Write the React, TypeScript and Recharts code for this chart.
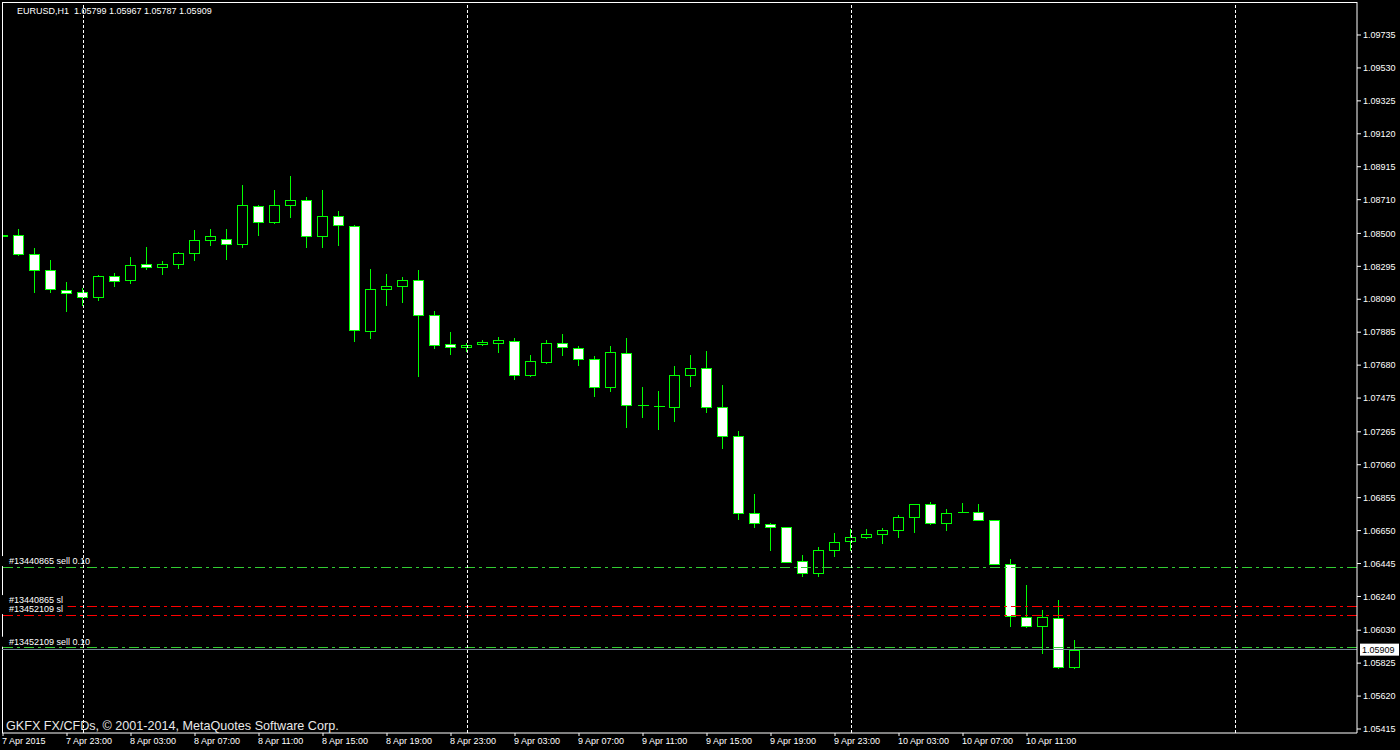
import React from 'react';
import { Bar, ComposedChart, ReferenceLine, XAxis, YAxis } from 'recharts';

// EURUSD H1, bar 0 = 7 Apr 2015 19:00
const opens = [
  1.08492, 1.08488, 1.0837, 1.0827, 1.08146, 1.08133, 1.08102, 1.08237, 1.08208, 1.08308,
  1.08289, 1.08308, 1.08376, 1.08457, 1.08463, 1.08432, 1.08669, 1.08569, 1.08675, 1.08706,
  1.08482, 1.08606, 1.08544, 1.07891, 1.08152, 1.08171, 1.08208, 1.0799, 1.0781, 1.07791,
  1.0781, 1.0782, 1.07828, 1.07617, 1.07701, 1.07816, 1.07785, 1.07716, 1.07542, 1.07754,
  1.0743, 1.07424, 1.07418, 1.07617, 1.0766, 1.07418, 1.07237, 1.06758, 1.06689, 1.06671,
  1.06459, 1.06384, 1.06527, 1.06583, 1.06608, 1.06627, 1.06652, 1.06733, 1.06814, 1.06695,
  1.06764, 1.06764, 1.06714, 1.0644, 1.0611, 1.06054, 1.06104, 1.05799,
];
const highs = [
  1.08552, 1.08527, 1.08409, 1.08334, 1.08198, 1.0816, 1.08239, 1.08254, 1.08353, 1.08415,
  1.08328, 1.08384, 1.08521, 1.08527, 1.08527, 1.08801, 1.08677, 1.0877, 1.08857, 1.08727,
  1.0877, 1.0864, 1.08552, 1.08278, 1.08247, 1.08229, 1.08272, 1.08017, 1.07886, 1.07818,
  1.07836, 1.07855, 1.07847, 1.07743, 1.07836, 1.07874, 1.07799, 1.07737, 1.07799, 1.07849,
  1.07544, 1.07519, 1.07675, 1.07743, 1.07768, 1.07556, 1.0727, 1.06878, 1.06695, 1.06674,
  1.06498, 1.06548, 1.06635, 1.0666, 1.0666, 1.06666, 1.06745, 1.06816, 1.06826, 1.06783,
  1.06822, 1.06816, 1.06719, 1.06471, 1.0631, 1.06154, 1.06216, 1.05967,
];
const lows = [
  1.08428, 1.08361, 1.08131, 1.08131, 1.08013, 1.0805, 1.08081, 1.08168, 1.08187, 1.08274,
  1.08243, 1.0828, 1.0833, 1.08423, 1.08336, 1.08411, 1.08486, 1.0856, 1.08598, 1.08411,
  1.08411, 1.08423, 1.07826, 1.07845, 1.0805, 1.08069, 1.07608, 1.07782, 1.07745, 1.07762,
  1.07801, 1.07757, 1.07589, 1.07608, 1.07689, 1.07739, 1.07676, 1.07484, 1.07515, 1.07291,
  1.07353, 1.07278, 1.07328, 1.07546, 1.07384, 1.0716, 1.06718, 1.06668, 1.06525, 1.0645,
  1.06363, 1.06363, 1.06488, 1.06525, 1.066, 1.06569, 1.06606, 1.06637, 1.06685, 1.06649,
  1.06757, 1.06712, 1.06434, 1.06052, 1.06042, 1.0588, 1.0579, 1.05787,
];
const closes = [
  1.08485, 1.0837, 1.0827, 1.08152, 1.08127, 1.08102, 1.08233, 1.08202, 1.08301, 1.08293,
  1.08308, 1.08376, 1.08457, 1.08482, 1.08432, 1.08675, 1.08569, 1.08675, 1.08706, 1.08482,
  1.08606, 1.0855, 1.07897, 1.08152, 1.08171, 1.08208, 1.0799, 1.07804, 1.07791, 1.07804,
  1.07824, 1.07835, 1.07617, 1.07704, 1.07816, 1.07791, 1.07716, 1.07542, 1.0776, 1.0743,
  1.07429, 1.07428, 1.07617, 1.0766, 1.07418, 1.07237, 1.06758, 1.06695, 1.06671, 1.06453,
  1.06384, 1.06527, 1.06577, 1.06608, 1.06627, 1.06652, 1.06733, 1.06814, 1.06695, 1.06758,
  1.06768, 1.06714, 1.0644, 1.06117, 1.06054, 1.0611, 1.05799, 1.05909,
];

const timeTickBars = [0, 4, 8, 12, 16, 20, 24, 28, 32, 36, 40, 44, 48, 52, 56, 60, 64];
const timeTickLabels = [
  '7 Apr 2015', '7 Apr 23:00', '8 Apr 03:00', '8 Apr 07:00', '8 Apr 11:00', '8 Apr 15:00',
  '8 Apr 19:00', '8 Apr 23:00', '9 Apr 03:00', '9 Apr 07:00', '9 Apr 11:00', '9 Apr 15:00',
  '9 Apr 19:00', '9 Apr 23:00', '10 Apr 03:00', '10 Apr 07:00', '10 Apr 11:00',
];
const daySeparatorBars = [5, 29, 53, 77];

const priceTicks = [
  1.09735, 1.0953, 1.09325, 1.0912, 1.08915, 1.0871, 1.085, 1.08295, 1.0809, 1.07885, 1.0768,
  1.07475, 1.07265, 1.0706, 1.06855, 1.0665, 1.06445, 1.0624, 1.0603, 1.05825, 1.0562, 1.05415,
];

const orderLabels = ['#13440865 sell 0.10', '#13440865 sl', '#13452109 sl', '#13452109 sell 0.10'];
const orderPrices = [1.06423, 1.0618, 1.06124, 1.05921];
const orderKinds = ['open', 'sl', 'sl', 'open'];

const bidPrice = 1.05909;
const headerText = 'EURUSD,H1  1.05799 1.05967 1.05787 1.05909';
const copyrightText = 'GKFX FX/CFDs, \u00A9 2001-2014, MetaQuotes Software Corp.';

const FONT = '"Liberation Sans", Arial, sans-serif';

const data = opens.map((o, i) => ({
  i,
  o,
  h: highs[i],
  l: lows[i],
  c: closes[i],
  range: [lows[i], highs[i]],
}));

const Candle = (props: any) => {
  const { x, y, width, height, payload } = props;
  if (!payload) return null;
  const { o, h, l, c } = payload;
  const top = Math.min(y, y + height);
  const span = Math.abs(height);
  const ppu = h > l ? span / (h - l) : 0;
  const yOf = (v: number) => top + (h - v) * ppu;
  const cx = Math.floor(x + width / 2) + 0.5;
  const bodyTop = Math.round(yOf(Math.max(o, c))) + 0.5;
  const bodyBot = Math.round(yOf(Math.min(o, c))) + 0.5;
  const bear = c < o;
  return (
    <g shapeRendering="crispEdges">
      <line x1={cx} x2={cx} y1={top} y2={top + span} stroke="#00ff00" strokeWidth={1} />
      {bodyBot - bodyTop < 1 ? (
        <line x1={cx - 5} x2={cx + 6} y1={bodyTop} y2={bodyTop} stroke="#00ff00" strokeWidth={1} />
      ) : (
        <rect
          x={cx - 5}
          y={bodyTop}
          width={10}
          height={bodyBot - bodyTop}
          fill={bear ? '#ffffff' : '#000000'}
          stroke="#00ff00"
          strokeWidth={1}
        />
      )}
    </g>
  );
};

// reference line drawn on a whole pixel row / column
const snap = (v: number) => Math.floor(v) + 0.5;
const CrispLine = (props: any) => {
  const { x1, y1, x2, y2, stroke, strokeDasharray } = props;
  const horiz = y1 === y2;
  return (
    <line
      x1={horiz ? x1 : snap(x1)}
      x2={horiz ? x2 : snap(x2)}
      y1={horiz ? snap(y1) : y1}
      y2={horiz ? snap(y2) : y2}
      stroke={stroke}
      strokeWidth={1}
      strokeDasharray={strokeDasharray}
      shapeRendering="crispEdges"
    />
  );
};

const TimeTick = (props: any) => {
  const { x, y, payload } = props;
  const idx = timeTickBars.indexOf(payload.value);
  return (
    <text x={x - 1} y={y + 6} fill="#ffffff" fontSize={9} fontFamily={FONT} textAnchor="start">
      {idx >= 0 ? timeTickLabels[idx] : ''}
    </text>
  );
};

const orderLabel = (text: string) => (props: any) => {
  const vb = props.viewBox || {};
  return (
    <g>
      <rect x={vb.x} y={vb.y - 11} width={text.length * 4.8 + 8} height={10} fill="#000000" />
      <text x={vb.x + 7} y={vb.y - 3} fill="#ffffff" fontSize={9} fontFamily={FONT}>
        {text}
      </text>
    </g>
  );
};

const bidLabel = (props: any) => {
  const vb = props.viewBox || {};
  const lx = vb.x + vb.width + 3;
  return (
    <g>
      <rect x={lx} y={vb.y - 6} width={39} height={12} fill="#ffffff" />
      <text x={lx + 2} y={vb.y + 3} fill="#000000" fontSize={9} fontFamily={FONT}>
        {bidPrice.toFixed(5)}
      </text>
    </g>
  );
};

const App: React.FC = () => {
  const xDomain = [-0.0625, 84.625];
  const yDomain = [1.053901, 1.099404];
  return (
    <div style={{ position: 'absolute', left: 0, top: 0, width: 1400, height: 750, background: '#000000' }}>
      <ComposedChart
        width={1400}
        height={750}
        data={data}
        margin={{ top: 2, right: 0, bottom: 0, left: 2 }}
        style={{ background: '#000000' }}
      >
        <XAxis
          dataKey="i"
          type="number"
          domain={xDomain}
          allowDataOverflow
          ticks={timeTickBars}
          interval={0}
          height={17}
          tickSize={3}
          tickMargin={2}
          stroke="#ffffff"
          tick={<TimeTick />}
        />
        <YAxis
          orientation="right"
          type="number"
          domain={yDomain}
          allowDataOverflow
          ticks={priceTicks}
          interval={0}
          width={43}
          tickSize={4}
          tickMargin={2}
          stroke="#ffffff"
          tick={{ fill: '#ffffff', fontSize: 9, fontFamily: FONT }}
          tickFormatter={(v: number) => v.toFixed(5)}
        />
        <ReferenceLine x={xDomain[0]} stroke="#ffffff" shape={CrispLine} />
        <ReferenceLine y={yDomain[1]} stroke="#ffffff" shape={CrispLine} />
        {orderPrices.map((p, k) => (
          <ReferenceLine
            key={'ord' + k}
            y={p}
            stroke={orderKinds[k] === 'sl' ? '#ff0000' : '#32cd32'}
            strokeDasharray="10 4 3 4"
            shape={CrispLine}
            label={orderLabel(orderLabels[k])}
          />
        ))}
        <ReferenceLine y={bidPrice} stroke="#778899" shape={CrispLine} label={bidLabel} />
        {daySeparatorBars.map((b) => (
          <ReferenceLine key={'sep' + b} x={b} stroke="#ffffff" strokeDasharray="3 2" shape={CrispLine} />
        ))}
        <Bar dataKey="range" barSize={11} shape={<Candle />} isAnimationActive={false} />
      </ComposedChart>
      <svg
        width={1400}
        height={750}
        style={{ position: 'absolute', left: 0, top: 0, pointerEvents: 'none' }}
      >
        <text x={17} y={14} fill="#ffffff" fontSize={9} fontFamily={FONT} style={{ whiteSpace: 'pre' }}>
          {headerText}
        </text>
        <text x={6} y={730} fill="#e8e8e8" fontSize={12.6} fontFamily={FONT}>
          {copyrightText}
        </text>
      </svg>
    </div>
  );
};

export default App;
